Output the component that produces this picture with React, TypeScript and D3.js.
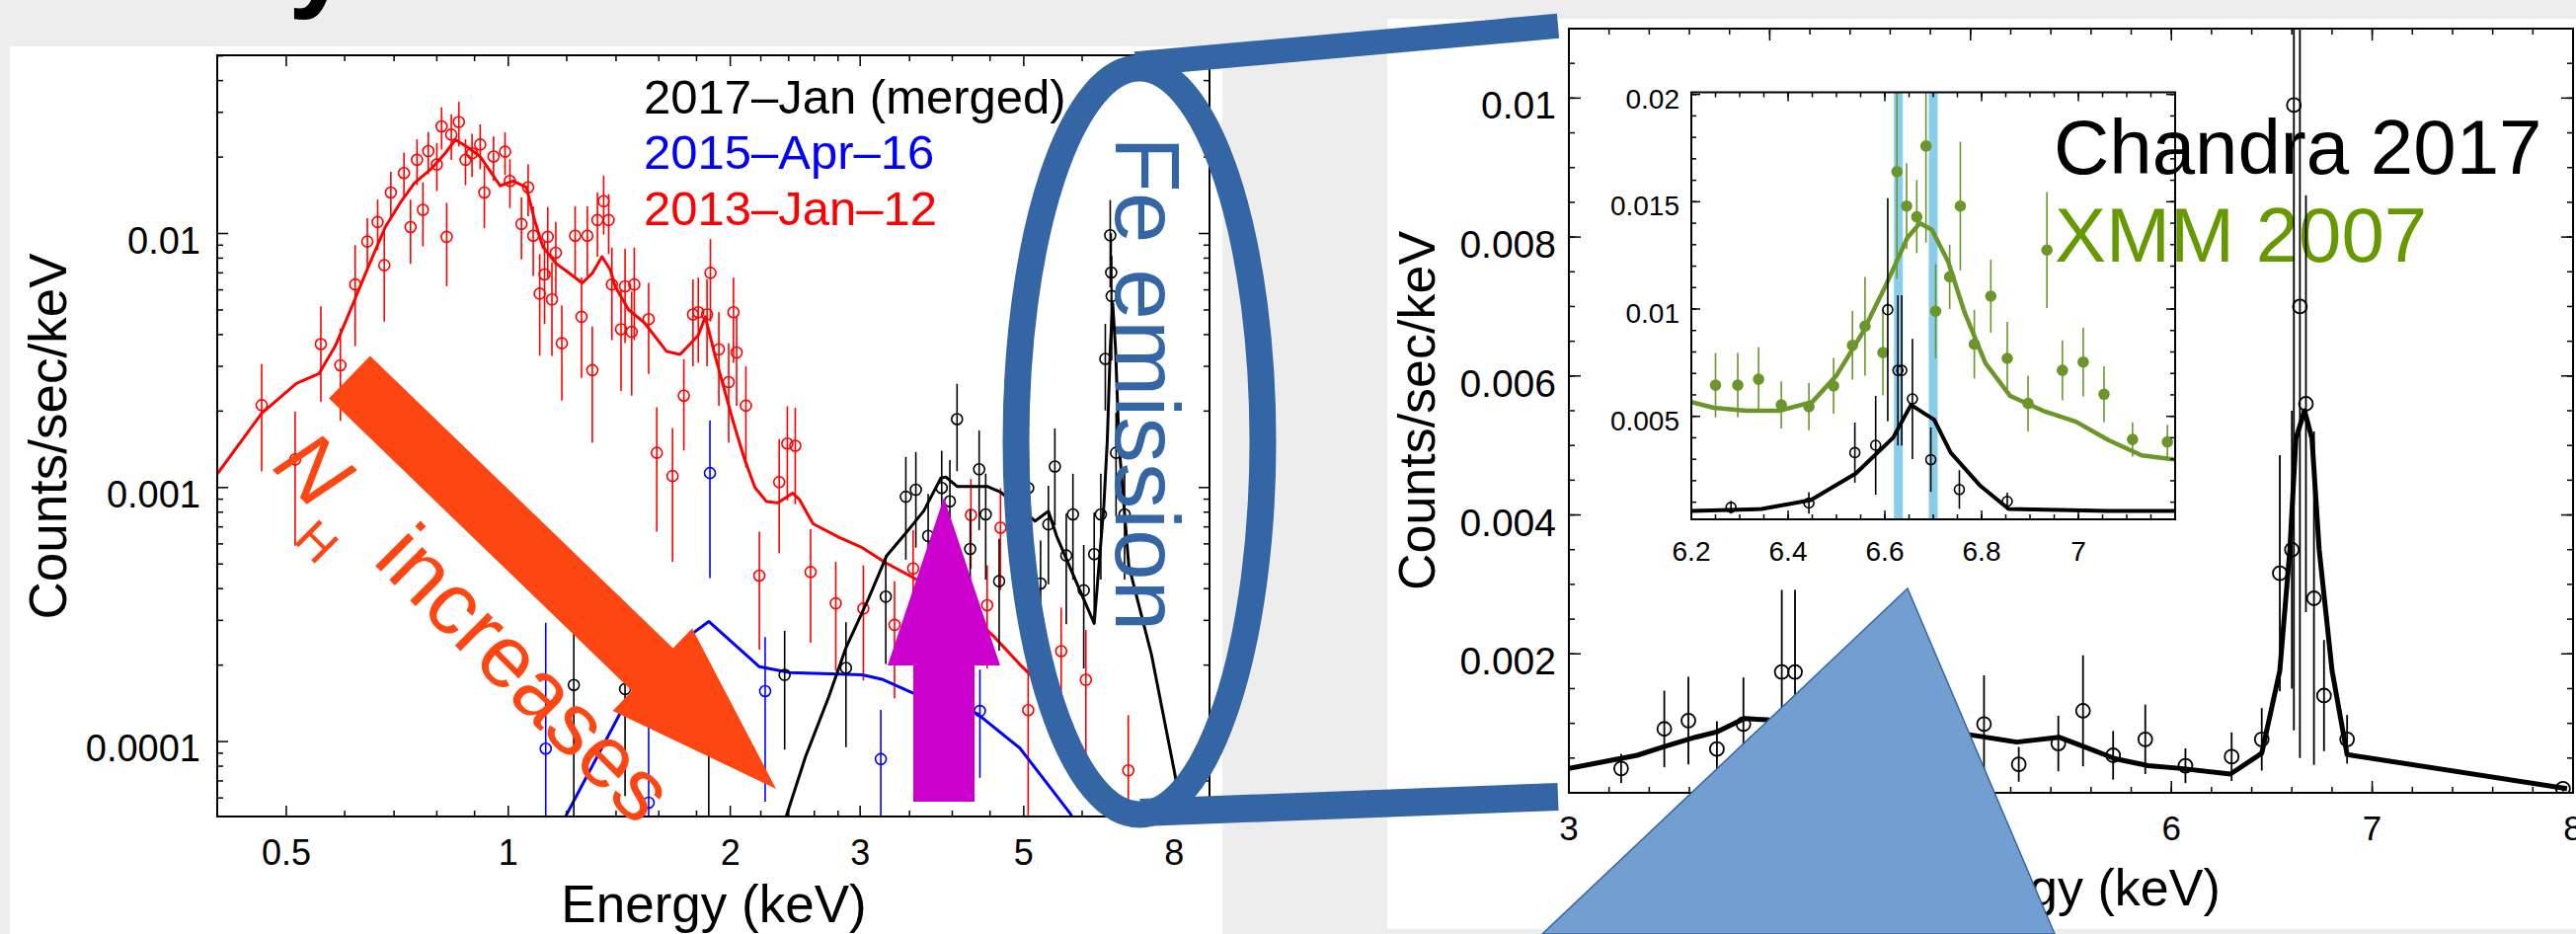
import React from "react";
import * as d3 from "d3";

// ================= LEFT PANEL : three epochs, log-log =================
const leftXTicks = [0.5, 1, 2, 3, 5, 8];
const leftXMinor = [0.6, 0.7, 0.8, 0.9, 1.2, 1.4, 1.6, 1.8, 2.2, 2.4, 2.6, 2.8, 3.5, 4, 4.5, 6, 7];
const leftYTicks = [0.0001, 0.001, 0.01];
const legendLabels = ["2017\u2013Jan (merged)", "2015\u2013Apr\u201316", "2013\u2013Jan\u201312"];
const legendColors = ["#000000", "#0000ff", "#ff0000"];

// 2013-Jan-12 model
const red2013ModelE = [0.403, 0.463, 0.516, 0.554, 0.583, 0.614, 0.646, 0.681, 0.716, 0.746, 0.785, 0.818, 0.848, 0.884, 0.916, 0.945, 0.975, 1.015, 1.058, 1.086, 1.114, 1.16, 1.21, 1.26, 1.3, 1.34, 1.375, 1.396, 1.455, 1.53, 1.64, 1.71, 1.81, 1.85, 1.91, 2.02, 2.09, 2.16, 2.24, 2.32, 2.43, 2.48, 2.59, 2.81, 3.02, 3.24, 3.56, 3.86, 4.24, 4.55, 4.94, 5.3];
const red2013ModelC = [0.00113, 0.00196, 0.00257, 0.00281, 0.00362, 0.00518, 0.0074, 0.0106, 0.0134, 0.0158, 0.0179, 0.0204, 0.0234, 0.0217, 0.0201, 0.0176, 0.0154, 0.0161, 0.0152, 0.01125, 0.00886, 0.00764, 0.00698, 0.00638, 0.00698, 0.0081, 0.0072, 0.0062, 0.00502, 0.00445, 0.00343, 0.00334, 0.00398, 0.0047, 0.00325, 0.0018, 0.0013, 0.001, 0.00088, 0.00087, 0.00095, 0.0009, 0.00072, 0.000636, 0.00058, 0.000508, 0.000438, 0.000389, 0.000315, 0.00026, 0.000201, 0.000165];
// 2013-Jan-12 data (keV, counts/sec/keV, 1 sigma)
const red2013E = [0.463, 0.514, 0.557, 0.592, 0.62, 0.644, 0.665, 0.679, 0.693, 0.722, 0.737, 0.752, 0.766, 0.779, 0.8, 0.812, 0.825, 0.837, 0.857, 0.875, 0.893, 0.916, 0.928, 0.955, 0.99, 1.005, 1.042, 1.064, 1.081, 1.103, 1.12, 1.131, 1.146, 1.16, 1.182, 1.232, 1.257, 1.28, 1.3, 1.321, 1.347, 1.368, 1.382, 1.422, 1.44, 1.482, 1.47, 1.55, 1.59, 1.67, 1.73, 1.78, 1.81, 1.86, 1.88, 1.93, 1.99, 2.02, 2.04, 2.1, 2.19, 2.33, 2.39, 2.45, 2.57, 2.78, 3.03, 3.34, 3.54, 4.24, 4.46, 4.65, 5.07, 5.62, 6.07, 6.93];
const red2013C = [0.00211, 0.00129, 0.00367, 0.00303, 0.0063, 0.0093, 0.0111, 0.0075, 0.0145, 0.0173, 0.0106, 0.0195, 0.0124, 0.0211, 0.0187, 0.0264, 0.0097, 0.0245, 0.0275, 0.0195, 0.0207, 0.0224, 0.0145, 0.0201, 0.021, 0.0161, 0.0109, 0.0152, 0.0098, 0.0058, 0.0069, 0.0097, 0.0055, 0.0084, 0.0037, 0.0098, 0.0047, 0.0098, 0.0029, 0.0113, 0.0134, 0.0113, 0.0063, 0.0042, 0.0062, 0.0063, 0.0041, 0.0046, 0.00137, 0.00111, 0.0023, 0.0048, 0.0049, 0.0048, 0.007, 0.0035, 0.0026, 0.0049, 0.0034, 0.0021, 0.00045, 0.00105, 0.00149, 0.00146, 0.000465, 0.00035, 0.000334, 0.000288, 0.00048, 0.00078, 0.000344, 0.000695, 0.000133, 0.000227, 0.000175, 0.000077];
const red2013Err = [0.00095, 0.0007, 0.0015, 0.0012, 0.0027, 0.0022, 0.0025, 0.003, 0.003, 0.0035, 0.003, 0.004, 0.0035, 0.004, 0.004, 0.005, 0.0035, 0.005, 0.0055, 0.004, 0.004, 0.0045, 0.004, 0.004, 0.004, 0.0035, 0.003, 0.0035, 0.003, 0.0025, 0.0025, 0.003, 0.0022, 0.0027, 0.0015, 0.003, 0.002, 0.003, 0.0014, 0.0032, 0.0035, 0.003, 0.0025, 0.0018, 0.0025, 0.0025, 0.0018, 0.0018, 0.0007, 0.0006, 0.0009, 0.0018, 0.0018, 0.0018, 0.0025, 0.0014, 0.0011, 0.0018, 0.0013, 0.0009, 0.00022, 0.0005, 0.0006, 0.0006, 0.00022, 0.00016, 0.00016, 0.00014, 0.0002, 0.0003, 0.00015, 0.0003, 0.00009, 0.00011, 0.0001, 0.00005];

// 2015-Apr-16 model and data
const blue2015ModelE = [1.17, 1.45, 1.77, 1.87, 2.19, 2.41, 3.02, 3.21, 3.56, 4.32, 4.94, 5.77, 5.9];
const blue2015ModelC = [0.000045, 0.000146, 0.000264, 0.000297, 0.000197, 0.000187, 0.000183, 0.000176, 0.000154, 0.000129, 0.0000942, 0.0000525, 0.000047];
const blue2015E = [1.124, 1.55, 1.877, 2.23, 3.2, 4.36];
const blue2015C = [0.0000938, 0.0000575, 0.00114, 0.000158, 0.0000853, 0.000132];
const blue2015Err = [0.0002, 0.0001, 0.0007, 0.0001, 0.000048, 0.00006];

// 2017-Jan merged model and data
const black2017ModelE = [2.35, 2.53, 2.72, 2.87, 3.08, 3.26, 3.45, 3.66, 3.86, 3.92, 4.06, 4.46, 4.65, 5.18, 5.4, 5.54, 5.89, 6.23, 6.42, 6.49, 6.55, 6.6, 6.66, 6.73, 6.94, 7.45, 8.01, 8.3];
const black2017ModelC = [0.000045, 0.0000873, 0.00015, 0.000234, 0.000366, 0.00054, 0.000655, 0.00081, 0.00109, 0.0011, 0.00101, 0.00101, 0.00096, 0.000738, 0.000807, 0.000645, 0.000425, 0.000292, 0.000843, 0.00153, 0.0035, 0.0053, 0.0035, 0.0015, 0.000493, 0.00022, 0.0000752, 0.00004];
const black2017E = [1.227, 1.44, 1.87, 2.37, 2.87, 3.25, 3.46, 3.57, 3.71, 3.87, 3.97, 4.06, 4.23, 4.35, 4.44, 4.63, 5.07, 5.27, 5.4, 5.51, 5.71, 5.83, 6.03, 6.23, 6.36, 6.45, 6.55, 6.57, 6.58, 6.67, 6.85];
const black2017C = [0.000167, 0.000161, 0.000035, 0.000183, 0.000195, 0.000372, 0.00092, 0.00098, 0.000645, 0.000996, 0.000883, 0.00186, 0.000573, 0.00118, 0.000784, 0.000428, 0.000996, 0.000419, 0.000716, 0.00121, 0.00054, 0.000784, 0.000394, 0.000547, 0.000784, 0.00321, 0.00984, 0.00702, 0.00567, 0.00137, 0.000784];
const black2017Err = [0.00013, 0.0001, 0.000065, 0.00009, 0.0001, 0.00017, 0.0004, 0.0004, 0.0003, 0.0004, 0.0004, 0.0007, 0.00025, 0.0005, 0.00035, 0.0002, 0.0004, 0.0002, 0.0003, 0.0005, 0.00025, 0.00035, 0.0002, 0.00025, 0.00035, 0.0012, 0.0037, 0.003, 0.0025, 0.0006, 0.00035];

// ================= RIGHT PANEL : Chandra 2017, linear =================
const rightXTicks = [3, 4, 5, 6, 7, 8];
const rightYTicks = [0.002, 0.004, 0.006, 0.008, 0.01];
const chandraModelE = [3.0, 3.34, 3.48, 3.63, 3.74, 3.874, 3.99, 4.04, 4.37, 4.7, 4.985, 5.23, 5.44, 5.56, 5.72, 5.885, 6.05, 6.294, 6.45, 6.54, 6.59, 6.62, 6.663, 6.7, 6.736, 6.8, 6.875, 7.97];
const chandraModelC = [0.00035, 0.00054, 0.00067, 0.0008, 0.00088, 0.00107, 0.00105, 0.001, 0.00088, 0.00092, 0.00084, 0.00073, 0.0008, 0.00067, 0.00049, 0.00039, 0.00035, 0.00027, 0.00057, 0.00176, 0.0035, 0.0051, 0.0055, 0.0051, 0.0035, 0.00176, 0.00055, 0.00006];
const chandraE = [3.26, 3.475, 3.595, 3.737, 3.869, 4.06, 4.126, 4.3, 4.55, 4.78, 5.067, 5.24, 5.437, 5.56, 5.71, 5.87, 6.07, 6.3, 6.45, 6.54, 6.6, 6.61, 6.64, 6.67, 6.71, 6.76, 6.875, 7.95];
const chandraC = [0.00035, 0.00092, 0.00104, 0.00063, 0.00099, 0.00174, 0.00174, 0.0011, 0.0009, 0.0008, 0.00099, 0.00041, 0.00071, 0.00118, 0.00054, 0.00077, 0.00039, 0.00052, 0.00077, 0.00316, 0.0035, 0.0099, 0.007, 0.0056, 0.0028, 0.0014, 0.00077, 0.00006];
const chandraErr = [0.00021, 0.00055, 0.00063, 0.0004, 0.00067, 0.00118, 0.00118, 0.0006, 0.0005, 0.0005, 0.0007, 0.00025, 0.0004, 0.0008, 0.00035, 0.0005, 0.00025, 0.00035, 0.00045, 0.0017, 0.002, 0.009, 0.0065, 0.003, 0.0024, 0.0008, 0.00035, 0.00004];

// ---- inset: Fe K region, XMM 2007 vs Chandra 2017 ----
const insetXTicks = [6.2, 6.4, 6.6, 6.8, 7];
const insetYTicks = [0.005, 0.01, 0.015, 0.02];
const feLineBands = [6.628, 6.7];
const xmmModelE = [6.2, 6.246, 6.314, 6.382, 6.45, 6.5, 6.553, 6.604, 6.646, 6.672, 6.697, 6.731, 6.765, 6.808, 6.859, 6.927, 6.995, 7.063, 7.131, 7.2];
const xmmModelC = [0.00567, 0.0054, 0.00526, 0.00526, 0.00567, 0.0069, 0.00886, 0.0112, 0.0133, 0.014, 0.0137, 0.0122, 0.00983, 0.00748, 0.00595, 0.00526, 0.00475, 0.00388, 0.00318, 0.00298];
const xmmE = [6.25, 6.296, 6.339, 6.386, 6.443, 6.494, 6.533, 6.559, 6.596, 6.625, 6.645, 6.666, 6.685, 6.705, 6.734, 6.756, 6.785, 6.819, 6.853, 6.896, 6.935, 6.967, 7.01, 7.053, 7.112, 7.184];
const xmmC = [0.00645, 0.00645, 0.00673, 0.00553, 0.00545, 0.00642, 0.00831, 0.0092, 0.00797, 0.0164, 0.0148, 0.0143, 0.0176, 0.0099, 0.0115, 0.0148, 0.00836, 0.0106, 0.0077, 0.0056, 0.01275, 0.00714, 0.00753, 0.00603, 0.00392, 0.00381];
const xmmErr = [0.0015, 0.0015, 0.0015, 0.0011, 0.0011, 0.0013, 0.0016, 0.0023, 0.002, 0.005, 0.002, 0.0017, 0.0045, 0.0022, 0.0015, 0.003, 0.0016, 0.0017, 0.0017, 0.0013, 0.0027, 0.0014, 0.0016, 0.0013, 0.0008, 0.0008];
const insetChandraModelE = [6.2, 6.345, 6.447, 6.54, 6.617, 6.654, 6.702, 6.736, 6.796, 6.856, 7.06, 7.2];
const insetChandraModelC = [0.00059, 0.00068, 0.0011, 0.00234, 0.004, 0.00553, 0.00484, 0.00331, 0.00179, 0.00068, 0.00059, 0.00059];
const insetChandraE = [6.282, 6.443, 6.538, 6.581, 6.606, 6.627, 6.635, 6.657, 6.695, 6.754, 6.853];
const insetChandraC = [0.00076, 0.00096, 0.00331, 0.00365, 0.00997, 0.00714, 0.00714, 0.00581, 0.00298, 0.00159, 0.00104];
const insetChandraErr = [0.0003, 0.0005, 0.0014, 0.0023, 0.0052, 0.0035, 0.0035, 0.0028, 0.0015, 0.0009, 0.0004];

const FONT = "'Liberation Sans', Arial, Helvetica, sans-serif";
const BLUE_MARK = "#3465a4";
const ORANGE = "#fe4612";
const XMM_GREEN = "#6b962a";

// -- helpers --
const pairs = (E, C) => E.map((e, i) => [e, C[i]]);

function drawModel(g, x, y, E, C, color, width) {
  const line = d3.line().x((d) => x(d[0])).y((d) => y(d[1]));
  g.append("path")
    .attr("d", line(pairs(E, C)))
    .attr("fill", "none")
    .attr("stroke", color)
    .attr("stroke-width", width)
    .attr("stroke-linejoin", "round");
}

function drawPoints(g, x, y, E, C, S, color, r, sw, filled, floor) {
  const pts = E.map((e, i) => ({ e, c: C[i], s: S[i] }));
  g.selectAll(null)
    .data(pts)
    .enter()
    .append("line")
    .attr("x1", (d) => x(d.e))
    .attr("x2", (d) => x(d.e))
    .attr("y1", (d) => y(Math.max(d.c - d.s, floor)))
    .attr("y2", (d) => y(d.c + d.s))
    .attr("stroke", color)
    .attr("stroke-width", sw);
  g.selectAll(null)
    .data(pts)
    .enter()
    .append("circle")
    .attr("cx", (d) => x(d.e))
    .attr("cy", (d) => y(d.c))
    .attr("r", r)
    .attr("fill", filled ? color : "none")
    .attr("stroke", color)
    .attr("stroke-width", sw);
}

// box + inward ticks on all four sides
function drawFrame(g, x, y, xMaj, xMin, yMaj, yMin, majLen, minLen, sw) {
  const [xa, xb] = x.range();
  const [ya, yb] = y.range(); // ya = bottom, yb = top
  g.append("rect")
    .attr("x", xa)
    .attr("y", yb)
    .attr("width", xb - xa)
    .attr("height", ya - yb)
    .attr("fill", "none")
    .attr("stroke", "#000")
    .attr("stroke-width", sw);
  const seg = (x1, y1, x2, y2) =>
    g.append("line").attr("x1", x1).attr("y1", y1).attr("x2", x2).attr("y2", y2)
      .attr("stroke", "#000").attr("stroke-width", 1.5);
  const xt = (vals, len) =>
    vals.forEach((v) => {
      const p = x(v);
      seg(p, ya, p, ya - len);
      seg(p, yb, p, yb + len);
    });
  const yt = (vals, len) =>
    vals.forEach((v) => {
      const p = y(v);
      seg(xa, p, xa + len, p);
      seg(xb, p, xb - len, p);
    });
  xt(xMin, minLen);
  xt(xMaj, majLen);
  yt(yMin, minLen);
  yt(yMaj, majLen);
}

function label(g, x, y, txt, size, anchor, color = "#000") {
  return g.append("text")
    .attr("x", x)
    .attr("y", y)
    .attr("font-family", FONT)
    .attr("font-size", size)
    .attr("text-anchor", anchor)
    .attr("fill", color)
    .text(txt);
}

const App = () => {
  const svgRef = React.useRef(null);
  const W = 2609;
  const H = 946;

  React.useEffect(() => {
    const svg = d3.select(svgRef.current);
    svg.selectAll("*").remove();

    // -- BACKGROUND --
    svg.append("rect").attr("width", W).attr("height", H).attr("fill", "#ededed");
    // tail of the slide title, cut off by the top edge
    svg.append("text")
      .attr("x", 292)
      .attr("y", -4)
      .attr("font-family", FONT)
      .attr("font-weight", "bold")
      .attr("font-size", 115)
      .text("y");
    svg.append("rect").attr("x", 10).attr("y", 47).attr("width", 1228).attr("height", 899).attr("fill", "#fff");
    svg.append("rect").attr("x", 1405).attr("y", 19).attr("width", 1204).attr("height", 922).attr("fill", "#fff");

    // ================= LEFT PLOT =================
    const xL = d3.scaleLog().domain([0.403, 8.93]).range([220, 1225]);
    const yL = d3.scaleLog().domain([5.07e-5, 0.0503]).range([827, 56]);
    const defs = svg.append("defs");
    defs.append("clipPath").attr("id", "clipL").append("rect")
      .attr("x", 220).attr("y", 56).attr("width", 1005).attr("height", 771);
    const gL = svg.append("g").attr("clip-path", "url(#clipL)");
    drawModel(gL, xL, yL, red2013ModelE, red2013ModelC, "#ff0000", 3);
    drawPoints(gL, xL, yL, red2013E, red2013C, red2013Err, "#ff0000", 5.5, 1.6, false, 1e-7);
    drawModel(gL, xL, yL, blue2015ModelE, blue2015ModelC, "#0000ff", 3);
    drawPoints(gL, xL, yL, blue2015E, blue2015C, blue2015Err, "#0000ff", 5.5, 1.6, false, 1e-7);
    drawModel(gL, xL, yL, black2017ModelE, black2017ModelC, "#000000", 3);
    drawPoints(gL, xL, yL, black2017E, black2017C, black2017Err, "#000000", 5.5, 1.6, false, 1e-7);

    const yLMinor = yL.ticks().filter((v) => !leftYTicks.some((t) => Math.abs(t - v) / t < 1e-6));
    drawFrame(svg, xL, yL, leftXTicks, leftXMinor, leftYTicks, yLMinor, 11, 6, 2);
    leftXTicks.forEach((v) => label(svg, xL(v), 876, String(v), 36, "middle"));
    leftYTicks.forEach((v) => label(svg, 203, yL(v) + 20, String(v), 38, "end"));
    label(svg, 723, 934, "Energy (keV)", 53, "middle");
    label(svg, 0, 0, "Counts/sec/keV", 53, "middle").attr("transform", "translate(67,442) rotate(-90)");
    legendLabels.forEach((t, i) => label(svg, 652, [115, 171, 228][i], t, 49, "start", legendColors[i]));

    // ================= RIGHT PLOT =================
    const xR = d3.scaleLinear().domain([3, 8]).range([1589, 2606]);
    const yR = d3.scaleLinear().domain([0, 0.011]).range([803, 29]);
    const xI = d3.scaleLinear().domain([6.2, 7.2]).range([1713, 2203]);
    const yI = d3.scaleLinear().domain([0.0002, 0.0201]).range([526, 93.5]);

    defs.append("clipPath").attr("id", "clipR").append("rect")
      .attr("x", 1589).attr("y", 29).attr("width", 1017).attr("height", 774);
    defs.append("clipPath").attr("id", "clipI").append("rect")
      .attr("x", 1713).attr("y", 93.5).attr("width", 490).attr("height", 432.5);

    // inset background, then the big captions, then lines on top
    svg.append("rect").attr("x", 1713).attr("y", 93.5).attr("width", 490).attr("height", 432.5).attr("fill", "#fff");
    label(svg, 2080, 176, "Chandra 2017", 78, "start");
    label(svg, 2081, 265, "XMM 2007", 78, "start", "#669900");

    const gR = svg.append("g").attr("clip-path", "url(#clipR)");
    drawModel(gR, xR, yR, chandraModelE, chandraModelC, "#000", 5);
    drawPoints(gR, xR, yR, chandraE, chandraC, chandraErr, "#000", 7, 1.8, false, 0);
    drawFrame(svg, xR, yR, rightXTicks, d3.range(3.2, 8, 0.2), rightYTicks, d3.range(0.0005, 0.011, 0.0005), 12, 6, 2);
    rightXTicks.forEach((v) => label(svg, xR(v), 851, String(v), 35, "middle"));
    rightYTicks.forEach((v) => label(svg, 1576, yR(v) + 21, String(v), 39, "end"));
    label(svg, 2097, 917, "Energy (keV)", 52, "middle");
    label(svg, 0, 0, "Counts/sec/keV", 52, "middle").attr("transform", "translate(1453,416) rotate(-90)");

    // inset
    const gI = svg.append("g").attr("clip-path", "url(#clipI)");
    feLineBands.forEach((e) =>
      gI.append("rect").attr("x", xI(e) - 4.5).attr("y", 93.5).attr("width", 9).attr("height", 432.5).attr("fill", "#87ceeb")
    );
    drawModel(gI, xI, yI, xmmModelE, xmmModelC, XMM_GREEN, 4.5);
    drawPoints(gI, xI, yI, xmmE, xmmC, xmmErr, XMM_GREEN, 5, 1.6, true, 0);
    drawModel(gI, xI, yI, insetChandraModelE, insetChandraModelC, "#000", 4);
    drawPoints(gI, xI, yI, insetChandraE, insetChandraC, insetChandraErr, "#000", 5, 1.6, false, 0);
    drawFrame(svg, xI, yI, [6.2, 6.4, 6.6, 6.8, 7.0], d3.range(6.25, 7.2, 0.05), insetYTicks, d3.range(0.001, 0.0201, 0.001), 9, 5, 2);
    insetXTicks.forEach((v) => label(svg, xI(v), 568, String(v), 28, "middle"));
    insetYTicks.forEach((v) => label(svg, 1701, yI(v) + 14, String(v), 28, "end"));

    // ================= ANNOTATIONS =================
    // N_H increases arrow
    const tail = [354, 382];
    const tip = [786, 799];
    const len = Math.hypot(tip[0] - tail[0], tip[1] - tail[1]);
    const u = [(tip[0] - tail[0]) / len, (tip[1] - tail[1]) / len];
    const n = [-u[1], u[0]];
    const shaftW = 30;
    const headW = 58;
    const headL = 174;
    const base = [tip[0] - headL * u[0], tip[1] - headL * u[1]];
    const P = (c, k) => [c[0] + k * n[0], c[1] + k * n[1]];
    svg.append("polygon")
      .attr("points", [P(tail, shaftW), P(base, shaftW), P(base, headW), tip, P(base, -headW), P(base, -shaftW), P(tail, -shaftW)].map((p) => p.join(",")).join(" "))
      .attr("fill", ORANGE);
    const gN = svg.append("g").attr("fill", ORANGE).attr("font-family", FONT);
    gN.append("text").attr("transform", "translate(274,474) rotate(45)").attr("font-size", 88).attr("font-style", "italic").text("N");
    gN.append("text").attr("transform", "translate(296,548) rotate(45)").attr("font-size", 50).text("H");
    gN.append("text").attr("transform", "translate(376,569) rotate(45)").attr("font-size", 89).text("increases");

    // magenta up arrow
    svg.append("polygon")
      .attr("points", "925,812 987,812 987,674 1013,674 956,504 899,674 925,674")
      .attr("fill", "#cc00cc");

    // Fe emission callout
    label(svg, 0, 0, "Fe emission", 93, "start", BLUE_MARK).attr("transform", "translate(1130,138) rotate(90)");
    svg.append("ellipse")
      .attr("cx", 1154).attr("cy", 447).attr("rx", 125).attr("ry", 378)
      .attr("fill", "none").attr("stroke", BLUE_MARK).attr("stroke-width", 27);
    svg.append("line").attr("x1", 1150).attr("y1", 64.7).attr("x2", 1578).attr("y2", 26.3)
      .attr("stroke", BLUE_MARK).attr("stroke-width", 25);
    svg.append("line").attr("x1", 1155).attr("y1", 823).attr("x2", 1578).attr("y2", 807)
      .attr("stroke", BLUE_MARK).attr("stroke-width", 28);

    // pointer triangle from the Fe K zoom
    svg.append("polygon")
      .attr("points", "1932,596 1562,946 2081,946")
      .attr("fill", "#729fcf")
      .attr("stroke", BLUE_MARK)
      .attr("stroke-width", 1.5);
  }, []);

  return (
    <svg
      ref={svgRef}
      width={W}
      height={H}
      style={{ position: "absolute", left: 0, top: 0, display: "block" }}
    />
  );
};

export default App;
